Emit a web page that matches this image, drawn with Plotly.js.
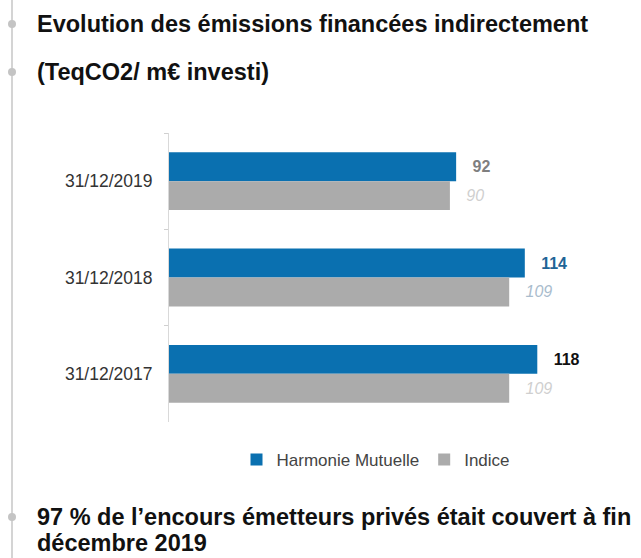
<!DOCTYPE html>
<html>
<head>
<meta charset="utf-8">
<script src="https://cdn.plot.ly/plotly-3.0.1.min.js"></script>
<style>html,body{margin:0;padding:0;background:#fff;}#chart{width:641px;height:558px;}</style>
</head>
<body>
<div id="chart"></div>
<script>
const categories = ['31/12/2019', '31/12/2018', '31/12/2017'];
const harmonieValues = [92, 114, 118];
const indiceValues = [90, 109, 109];
const harmonieLabelColors = ['#7f7f7f', '#1f6496', '#111111'];
const indiceLabelColors = ['#cfcfcf', '#a9bccd', '#cfcfcf'];
const seriesNames = ['Harmonie Mutuelle', 'Indice'];
const titleLines = ['Evolution des émissions financées indirectement', '(TeqCO2/ m€ investi)'];
const footLines = ['97 % de l\u2019encours émetteurs privés était couvert à fin', 'décembre 2019'];

const FONT = 'Liberation Sans, Arial, sans-serif';
const L = 169, R = 21, T = 133, B = 136, W = 641 - L - R, H = 558 - T - B;
const px = x => (x - L) / W;
const py = y => (558 - B - y) / H;

const traces = [
  {
    type: 'bar', orientation: 'h', name: seriesNames[0],
    y: categories, x: harmonieValues,
    marker: {color: '#0a70b0'},
    texttemplate: '\u00a0\u00a0\u00a0%{x}', textposition: 'outside',
    textfont: {family: FONT, size: 16, color: harmonieLabelColors, weight: 'bold'},
    cliponaxis: false, constraintext: 'none', hoverinfo: 'none'
  },
  {
    type: 'bar', orientation: 'h', name: seriesNames[1],
    y: categories, x: indiceValues,
    marker: {color: '#ababab'},
    texttemplate: '\u00a0\u00a0\u00a0%{x}', textposition: 'outside',
    textfont: {family: FONT, size: 16, color: indiceLabelColors, style: 'italic'},
    cliponaxis: false, constraintext: 'none', hoverinfo: 'none'
  }
];

const annText = (text, x, y) => ({
  text: text, xref: 'paper', yref: 'paper', x: px(x), y: py(y),
  xanchor: 'left', yanchor: 'middle', showarrow: false,
  font: {family: FONT, size: 23.5, color: '#111111', weight: 'bold'}
});

const dot = y => ({
  type: 'circle', xref: 'paper', yref: 'paper',
  xsizemode: 'pixel', ysizemode: 'pixel',
  xanchor: px(12), yanchor: py(y),
  x0: -4, x1: 4, y0: -4, y1: 4,
  fillcolor: '#c4c4c4', line: {width: 0}
});

const layout = {
  width: 641, height: 558,
  margin: {l: L, r: R, t: T, b: B, pad: 0},
  paper_bgcolor: '#ffffff', plot_bgcolor: '#ffffff',
  barmode: 'group', bargap: 0.4, bargroupgap: 0,
  font: {family: FONT, color: '#333333'},
  xaxis: {range: [0, 144.5], showgrid: false, zeroline: false, showticklabels: false, showline: false, fixedrange: true},
  yaxis: {
    type: 'category', categoryorder: 'array', categoryarray: categories,
    autorange: 'reversed', showline: true, linecolor: '#d9d9d9', linewidth: 1,
    ticks: 'outside', tickson: 'boundaries', ticklen: 4, tickcolor: '#d0d0d0',
    tickfont: {family: FONT, size: 17.5, color: '#333333'},
    ticklabelstandoff: 12, showgrid: false, zeroline: false, fixedrange: true
  },
  showlegend: true,
  legend: {
    orientation: 'h', x: px(376), xanchor: 'center', y: py(460), yanchor: 'middle',
    font: {family: FONT, size: 17, color: '#444444'}, itemwidth: 30,
    bgcolor: 'rgba(0,0,0,0)'
  },
  shapes: [
    {type: 'line', xref: 'paper', yref: 'paper', x0: px(12), x1: px(12), y0: py(0), y1: py(558),
     line: {color: '#d4d4d4', width: 2}},
    dot(24), dot(72), dot(517)
  ],
  annotations: [
    annText(titleLines[0], 35, 24),
    annText(titleLines[1], 35, 72),
    annText(footLines[0], 35, 517),
    annText(footLines[1], 35, 543)
  ]
};

Plotly.newPlot('chart', traces, layout, {displayModeBar: false, staticPlot: true});
</script>
</body>
</html>
